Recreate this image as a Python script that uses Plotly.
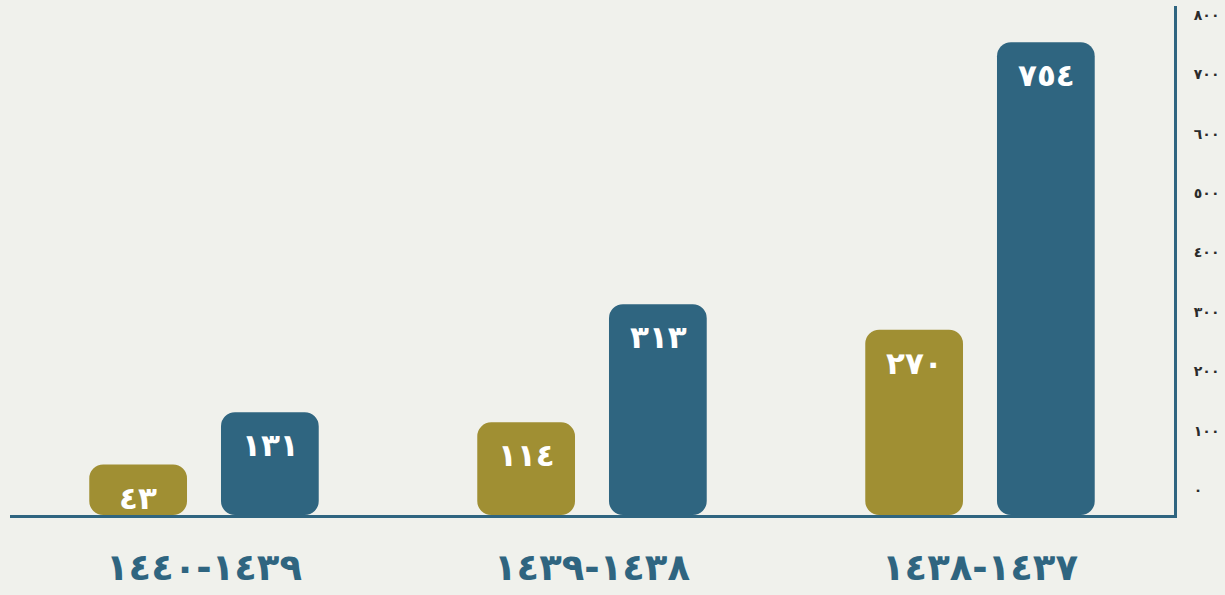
import plotly.graph_objects as go

categories = ["١٤٣٩-١٤٤٠", "١٤٣٨-١٤٣٩", "١٤٣٧-١٤٣٨"]
series_a = [43, 114, 270]      # olive
series_b = [131, 313, 754]     # blue
ar_digits = str.maketrans("0123456789", "٠١٢٣٤٥٦٧٨٩")
tick_vals = [0, 100, 200, 300, 400, 500, 600, 700, 800]
tick_text = [str(v).translate(ar_digits) for v in tick_vals]

OLIVE = "#a08f33"
BLUE = "#2f6580"
BG = "#f0f1ec"
BASE = -42

fig = go.Figure()
fig.add_trace(go.Bar(x=categories, y=[v - BASE for v in series_a], base=BASE,
                     marker=dict(color=OLIVE, line=dict(width=0)), hoverinfo="skip"))
fig.add_trace(go.Bar(x=categories, y=[v - BASE for v in series_b], base=BASE,
                     marker=dict(color=BLUE, line=dict(width=0)), hoverinfo="skip"))

for vals, shift in ((series_a, -66), (series_b, 66)):
    for c, v in zip(categories, vals):
        fig.add_annotation(x=c, y=v, text=str(v).translate(ar_digits), showarrow=False,
                           xshift=shift, yshift=-13, yanchor="top",
                           font=dict(family="DejaVu Sans", size=31, color="white", weight="bold"))

fig.update_layout(
    width=1225, height=595,
    margin=dict(l=10, r=48, t=6, b=79),
    paper_bgcolor=BG, plot_bgcolor=BG,
    showlegend=False,
    barmode="group", bargap=0.321, bargroupgap=0.258,
    barcornerradius=14,
)
fig.update_xaxes(showline=True, linecolor=BLUE, linewidth=3, showgrid=False, ticks="",
                 tickfont=dict(family="DejaVu Sans", size=37, color=BLUE, weight="bold"),
                 ticklabelstandoff=18)
fig.update_yaxes(side="right", range=[BASE, 815], showline=True, linecolor=BLUE, linewidth=3,
                 showgrid=False, zeroline=False, ticks="",
                 tickvals=tick_vals, ticktext=tick_text,
                 tickfont=dict(family="DejaVu Sans", size=14, color="#2b2b2b", weight="bold"),
                 ticklabelstandoff=14)

fig.write_html("out.html", config={"displayModeBar": False},
               post_script="document.body.style.margin='0';document.body.style.padding='0';document.body.style.background='%s';" % BG)
